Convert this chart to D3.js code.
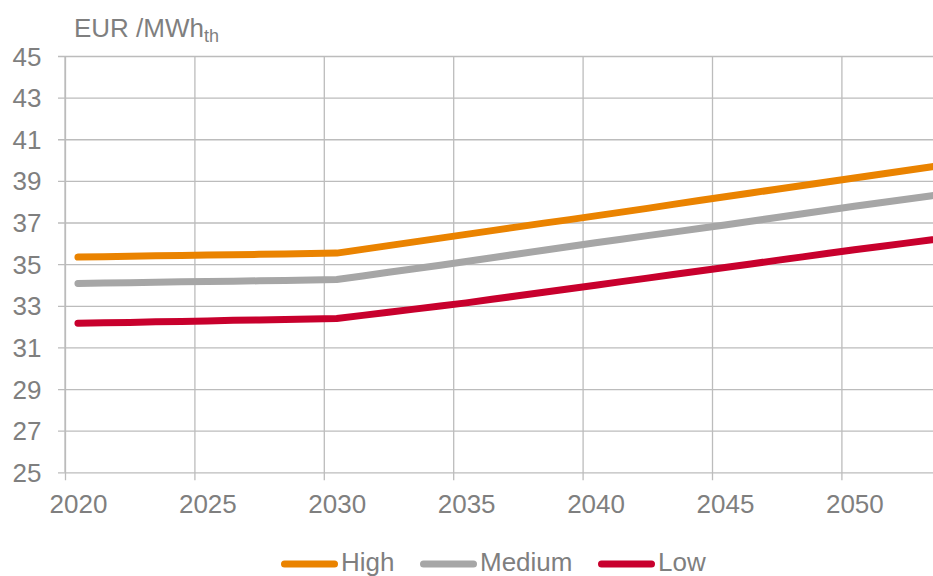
<!DOCTYPE html>
<html>
<head>
<meta charset="utf-8">
<script src="https://cdn.jsdelivr.net/npm/d3@7/dist/d3.min.js"></script>
<style>
  html, body { margin: 0; padding: 0; background: #fff; }
  svg { display: block; font-family: "Liberation Sans", Arial, sans-serif; }
</style>
</head>
<body>
<svg id="chart" width="933" height="576"></svg>
<script>
// Fuel price scenarios, EUR per MWh thermal, yearly values
const years = [2020, 2021, 2022, 2023, 2024, 2025, 2026, 2027, 2028, 2029,
               2030, 2031, 2032, 2033, 2034, 2035, 2036, 2037, 2038, 2039,
               2040, 2041, 2042, 2043, 2044, 2045, 2046, 2047, 2048, 2049,
               2050, 2051, 2052, 2053, 2054, 2055];

const high = [35.34, 35.36, 35.38, 35.40, 35.42, 35.44, 35.45, 35.47, 35.49, 35.51,
              35.53, 35.71, 35.89, 36.07, 36.25, 36.43, 36.61, 36.79, 36.97, 37.14,
              37.32, 37.50, 37.68, 37.87, 38.06, 38.24, 38.42, 38.60, 38.78, 38.96,
              39.14, 39.32, 39.50, 39.68, 39.85, 40.02];

const medium = [34.07, 34.09, 34.11, 34.13, 34.15, 34.17, 34.18, 34.20, 34.22, 34.24,
                34.26, 34.43, 34.61, 34.78, 34.95, 35.13, 35.31, 35.49, 35.67, 35.85,
                36.03, 36.20, 36.37, 36.54, 36.71, 36.88, 37.06, 37.24, 37.42, 37.60,
                37.78, 37.95, 38.12, 38.29, 38.46, 38.63];

const low = [32.16, 32.18, 32.20, 32.23, 32.25, 32.27, 32.30, 32.32, 32.34, 32.37,
             32.39, 32.54, 32.69, 32.84, 32.99, 33.14, 33.31, 33.48, 33.65, 33.82,
             33.99, 34.16, 34.33, 34.50, 34.67, 34.84, 35.01, 35.18, 35.35, 35.52,
             35.69, 35.85, 36.01, 36.17, 36.33, 36.49];

const xTicks = [2020, 2025, 2030, 2035, 2040, 2045, 2050];
const yTicks = [25, 27, 29, 31, 33, 35, 37, 39, 41, 43, 45];

const seriesNames = ["High", "Medium", "Low"];
const seriesColors = ["#EA8300", "#A6A6A6", "#C8002D"];
const seriesValues = [high, medium, low];

const textColor = "#7f7f7f";
const gridColor = "#bcbcbc";

const svg = d3.select("#chart");
const plotLeft = 65, plotTop = 56, plotBottom = 472.3;

// Year boundaries on a linear scale; each year's value sits mid-year.
const x = d3.scaleLinear().domain([2020, 2050]).range([plotLeft, 841.4]);
const y = d3.scaleLinear().domain([25, 45]).range([plotBottom, plotTop]);

// Horizontal gridlines + y axis labels
const yAxis = d3.axisLeft(y)
  .tickValues(yTicks)
  .tickSize(-(960 - plotLeft))
  .tickSizeOuter(0)
  .tickPadding(0);
const gy = svg.append("g").attr("transform", `translate(${plotLeft},0)`).call(yAxis);
gy.select(".domain").remove();
gy.selectAll(".tick line").attr("stroke", gridColor).attr("stroke-width", 1.3)
  .attr("x1", -7);
gy.selectAll(".tick text")
  .attr("x", -23.5)
  .attr("fill", textColor)
  .attr("font-size", 26)
  .attr("dy", "0.35em")
  .attr("text-anchor", "end");

// Vertical gridlines every five years + x axis labels
const xAxis = d3.axisBottom(x)
  .tickValues(xTicks)
  .tickSize(8)
  .tickSizeOuter(0)
  .tickFormat(d3.format("d"));
const gx = svg.append("g").attr("transform", `translate(0,${plotBottom})`).call(xAxis);
gx.select(".domain").remove();
gx.selectAll(".tick line")
  .attr("stroke", gridColor).attr("stroke-width", 1.3)
  .attr("y1", plotTop - plotBottom).attr("y2", 8);
gx.selectAll(".tick text")
  .attr("x", x(2020.5) - x(2020))
  .attr("y", 0)
  .attr("dy", 0)
  .attr("transform", "translate(0,41)")
  .attr("fill", textColor)
  .attr("font-size", 26);

// Left axis line
svg.append("line")
  .attr("x1", plotLeft).attr("x2", plotLeft).attr("y1", plotTop).attr("y2", plotBottom)
  .attr("stroke", gridColor).attr("stroke-width", 1.3);

// Scenario lines
const line = d3.line()
  .x((d, i) => x(years[i] + 0.5))
  .y(d => y(d));

seriesValues.forEach((vals, k) => {
  svg.append("path")
    .datum(vals)
    .attr("d", line)
    .attr("fill", "none")
    .attr("stroke", seriesColors[k])
    .attr("stroke-width", 7)
    .attr("stroke-linecap", "round")
    .attr("stroke-linejoin", "round");
});

// Unit label
const unit = svg.append("text")
  .attr("x", 74).attr("y", 37)
  .attr("fill", textColor)
  .attr("font-size", 26);
unit.append("tspan").text("EUR /MWh");
unit.append("tspan").attr("font-size", 18).attr("dy", 5).text("th");

// Legend
const legendX = [281, 420, 598];
const legend = svg.append("g");
seriesNames.forEach((name, k) => {
  const g = legend.append("g").attr("transform", `translate(${legendX[k]},564)`);
  g.append("line")
    .attr("x1", 3.5).attr("x2", 53.5).attr("y1", 0).attr("y2", 0)
    .attr("stroke", seriesColors[k])
    .attr("stroke-width", 7)
    .attr("stroke-linecap", "round");
  g.append("text")
    .attr("x", 60).attr("y", 7)
    .attr("fill", textColor)
    .attr("font-size", 26)
    .text(name);
});
</script>
</body>
</html>
